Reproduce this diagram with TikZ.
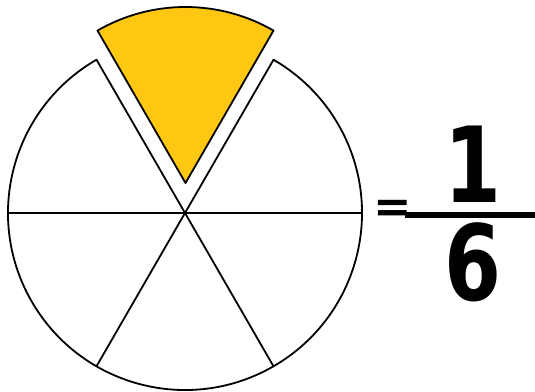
\documentclass[tikz,border=0pt]{standalone}
\usetikzlibrary{calc}
\usepackage{fontspec}
\newfontfamily\digitfont{DejaVu Sans}[BoldFont={* Bold}]
\definecolor{pieyellow}{RGB}{254,200,18}
\begin{document}
\begin{tikzpicture}[x=1pt,y=1pt,
  pieline/.style={line width=1.8pt,line join=round,line cap=round},
  bigdigit/.style={inner sep=0pt,anchor=base,font=\digitfont\bfseries\fontsize{105}{105}\selectfont,xscale=0.78,transform shape}]
\useasboundingbox (0,0) rectangle (535,391);
% whole circle with missing top slice
\coordinate (c) at (185,178);
\draw[pieline] ($(c)+(120:177)$) arc[start angle=120,end angle=420,radius=177];
\foreach \a/\n in {0/e,60/ne,120/nw,180/w,240/sw,300/se}{
  \coordinate (p\n) at ($(c)+(\a:177)$);
  \draw[pieline] (c) -- (p\n);
}
% lifted slice
\coordinate (s) at (185.5,208);
\draw[pieline,fill=pieyellow] (s) -- ($(s)+(60:176)$) arc[start angle=60,end angle=120,radius=176] -- cycle;
% fraction
\node[bigdigit] (one) at (473,188) {1};
\node[bigdigit] (six) at (473,90.3) {6};
\coordinate (barL) at (405,176);
\coordinate (barR) at (535,176);
\draw[line width=6.5pt] (barL) -- (barR);
\node[inner sep=0pt,anchor=base,font=\digitfont\bfseries\fontsize{46}{46}\selectfont] (eq) at (392.5,168) {=};
\end{tikzpicture}
\end{document}
